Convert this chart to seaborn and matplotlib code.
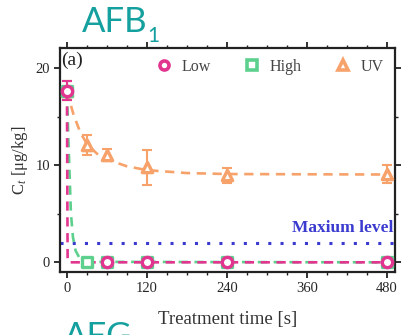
import matplotlib
matplotlib.use("Agg")
import matplotlib.pyplot as plt
from matplotlib.lines import Line2D
from matplotlib.ticker import MultipleLocator
import seaborn as sns
import pandas as pd

# ---- data ----
low_t = [0, 60, 120, 240, 480]
low_c = [17.7, 0, 0, 0, 0]
low_err = [1.0, 0, 0, 0, 0]

high_t = [0, 30, 60, 120, 240, 480]
high_c = [17.7, 0, 0, 0, 0, 0]
high_err = [1.0, 0, 0, 0, 0, 0]

uv_t = [0, 30, 60, 120, 240, 480]
uv_c = [17.7, 12.1, 11.1, 9.8, 8.95, 9.1]
uv_err = [1.0, 1.0, 0.6, 1.8, 0.8, 0.9]

# fitted curves
low_fit_t = [0, 0.5, 1, 2, 480]
low_fit_c = [17.7, 9.0, 0.5, 0.0, 0.0]
high_fit_t = [0, 2, 4, 6, 9, 13, 20, 30, 480]
high_fit_c = [17.7, 13.0, 9.0, 5.0, 2.6, 1.2, 0.3, 0.05, 0.0]
uv_fit_t = [0, 5, 10, 15, 20, 30, 45, 60, 90, 120, 180, 240, 480]
uv_fit_c = [17.7, 16.4, 15.2, 14.3, 13.4, 12.2, 11.2, 10.6, 9.9, 9.5, 9.2, 9.1, 9.05]

max_level = 2.0
series_names = ["Low", "High", "UV"]
x_ticks = [0, 120, 240, 360, 480]
y_ticks = [0, 10, 20]

# ---- style ----
sns.set_theme(style="ticks")
plt.rcParams["font.family"] = ["Liberation Serif", "DejaVu Serif"]
plt.rcParams["mathtext.fontset"] = "custom"
plt.rcParams["mathtext.rm"] = "Liberation Serif"
plt.rcParams["mathtext.it"] = "Liberation Serif:italic"

c_low = "#e2358f"
c_high = "#5dd08e"
c_uv = "#f7a26a"
c_max = "#3a3ad0"
c_teal = "#14a09e"

fig = plt.figure(figsize=(4.05, 3.35), dpi=100)
ax = fig.add_axes([0.148, 0.188, 0.827, 0.669])

# max level line
ax.axhline(max_level, color=c_max, lw=2.2, ls=(0, (1, 3)), zorder=1)
ax.text(490, max_level + 0.75, "Maxium level", color=c_max, fontsize=12.5,
        fontweight="bold", ha="right", va="bottom")

# fitted curves
fits = pd.concat([
    pd.DataFrame({"t": uv_fit_t, "c": uv_fit_c, "s": "UV"}),
    pd.DataFrame({"t": high_fit_t, "c": high_fit_c, "s": "High"}),
    pd.DataFrame({"t": low_fit_t, "c": low_fit_c, "s": "Low"}),
])
pal = {"Low": c_low, "High": c_high, "UV": c_uv}
for name, z in [("UV", 2), ("High", 3), ("Low", 4)]:
    sub = fits[fits["s"] == name]
    sns.lineplot(data=sub, x="t", y="c", color=pal[name], lw=1.9,
                 ls=(0, (3.5, 2.5)), ax=ax, zorder=z, sort=False)

# data points
pts = [("UV", uv_t, uv_c, uv_err, "^", 5),
       ("High", high_t, high_c, high_err, "s", 6),
       ("Low", low_t, low_c, low_err, "o", 7)]
for name, t, c, e, m, z in pts:
    ax.errorbar(t, c, yerr=e, fmt="none", ecolor=pal[name], elinewidth=1.5,
                capsize=3.5, capthick=1.5, zorder=z)
    sns.scatterplot(x=t, y=c, marker=m, s=55, facecolor="white",
                    edgecolor=pal[name], linewidth=2.4, ax=ax, zorder=z + 0.5)

ax.set_xlim(-10.5, 492)
ax.set_ylim(-1.0, 22.1)
ax.set_xticks(x_ticks)
ax.set_yticks(y_ticks)
ax.xaxis.set_minor_locator(MultipleLocator(30))
ax.yaxis.set_minor_locator(MultipleLocator(5))
ax.tick_params(which="both", direction="out", top=True, right=True,
               labeltop=False, labelright=False, color="#222222")
ax.tick_params(which="major", length=4, width=1.3, labelsize=10.5, pad=3)
ax.tick_params(which="minor", length=2.5, width=1.0)
for sp in ax.spines.values():
    sp.set_linewidth(1.6)
    sp.set_color("#222222")

ax.set_xlabel("Treatment time [s]", fontsize=13.5, labelpad=12, color="#333333")
ax.set_ylabel("C$_t$ [μg/kg]", fontsize=12, labelpad=4, color="#333333")
ax.text(0.005, 0.985, "(a)", transform=ax.transAxes, fontsize=14,
        ha="left", va="top", color="#222222")

handles = [Line2D([], [], ls="none", marker="o", ms=6.5, mfc="white", mec=c_low, mew=2.6),
           Line2D([], [], ls="none", marker="s", ms=6.5, mfc="white", mec=c_high, mew=2.6),
           Line2D([], [], ls="none", marker="^", ms=6.5, mfc="white", mec=c_uv, mew=2.6)]
ax.legend(handles, series_names, loc="upper right", ncol=3, frameon=False,
          fontsize=11.5, handletextpad=0.1, columnspacing=1.6,
          bbox_to_anchor=(1.0, 1.0), borderaxespad=0.3, labelcolor="#444444")

# panel titles
title_fam = ["Lato", "DejaVu Sans"]
fig.text(82/405, 1 - 32/335, "AFB", color=c_teal, fontsize=25,
         family=title_fam, ha="left", va="baseline")
fig.text(147/405, 1 - 42/335, "1", color=c_teal, fontsize=15,
         family=title_fam, ha="left", va="baseline")
fig.text(64/405, 1 - 347/335, "AFG", color=c_teal, fontsize=25,
         family=title_fam, ha="left", va="baseline")

fig.savefig("out.png", dpi=100)
